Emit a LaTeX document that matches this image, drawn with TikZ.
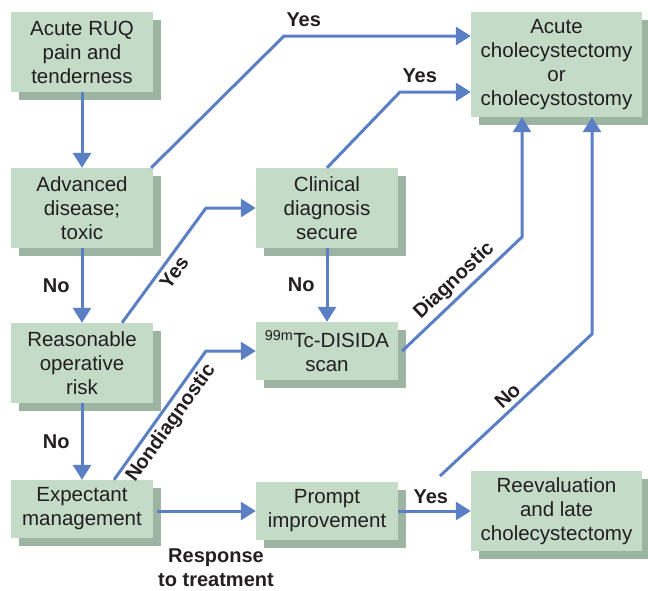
\documentclass[tikz,border=0pt]{standalone}
\usepackage{fontspec}
\setmainfont{Liberation Sans}
\usetikzlibrary{arrows.meta,shadows,positioning}
\definecolor{boxgreen}{HTML}{C3DBC7}
\definecolor{boxshadow}{HTML}{9EB4A3}
\definecolor{flowblue}{HTML}{5B7FC5}
\definecolor{inkdark}{HTML}{231F20}
\tikzset{
  box/.style={fill=boxgreen, text=inkdark, align=center, inner sep=2pt,
    minimum width=142pt, minimum height=80pt,
    font=\fontsize{20.5}{24}\selectfont,
    drop shadow={shadow xshift=8pt, shadow yshift=-8pt, fill=boxshadow, opacity=1}},
  flow/.style={draw=flowblue, line width=3pt, -{Triangle[length=15pt,width=18pt]}},
  lbl/.style={text=inkdark, font=\fontsize{20}{24}\selectfont\bfseries, inner sep=1pt}
}
\begin{document}
\begin{tikzpicture}[x=1pt,y=-1pt]
\useasboundingbox (0,0) rectangle (648,590);

\node[box] (pain) at (82,52) {Acute RUQ\\pain and\\tenderness};
\node[box] (adv) at (82,208) {Advanced\\disease;\\toxic};
\node[box] (risk) at (82,363) {Reasonable\\operative\\risk};
\node[box, minimum height=58pt] (expect) at (82,509) {Expectant\\management};
\node[box] (clin) at (327,208) {Clinical\\diagnosis\\secure};
\node[box, minimum height=58pt] (scan) at (327,351) {\textsuperscript{99m}Tc-DISIDA\\scan};
\node[box, minimum height=58pt] (prompt) at (327,511) {Prompt\\improvement};
\node[box, minimum width=171pt, minimum height=105pt] (acute) at (556.5,64.5) {Acute\\cholecystectomy\\or\\cholecystostomy};
\node[box, minimum width=171pt] (reeval) at (556.5,511) {Reevaluation\\and late\\cholecystectomy};

\coordinate (noStart) at (440,476);

\draw[flow] (pain) -- (adv);
\draw[flow] (adv) -- node[lbl, left=10pt] {No} (risk);
\draw[flow] (risk) -- node[lbl, left=10pt] {No} (expect);
\draw[flow] (clin) -- node[lbl, left=10pt] {No} (scan);
\draw[flow] ([xshift=-2pt]adv.north east) -- (284,36) node[lbl, above right=7pt and 0pt] {Yes} -- (acute.west |- 284,36);
\draw[flow] (clin.north) -- (400,92) node[lbl, above right=7pt and 0pt] {Yes} -- (acute.west |- 400,92);
\draw[flow] ([xshift=40pt]risk.north) -- node[lbl, sloped, below=3pt, pos=0.5] {Yes} (206,208) -- (clin.west);
\draw[flow] ([xshift=32pt]expect.north) -- node[lbl, sloped, below=2pt, pos=0.5] {Nondiagnostic} (206,351) -- (scan.west);
\draw[flow] ([xshift=4pt]scan.east) -- node[lbl, sloped, above=3pt, pos=0.52] {Diagnostic} (522,237) -- (acute.south -| 522,237);
\draw[flow] (noStart) -- node[lbl, sloped, above=3pt, pos=0.5] {No} (592,334) -- (acute.south -| 592,334);
\draw[flow] ([xshift=4pt]expect.east |- prompt.west) -- (prompt.west);
\draw[flow] (prompt.east) -- node[lbl, above=5pt, pos=0.45] {Yes} (reeval.west);

\node[lbl, align=center] (resp) at (216,568) {Response\\to treatment};
\end{tikzpicture}
\end{document}
